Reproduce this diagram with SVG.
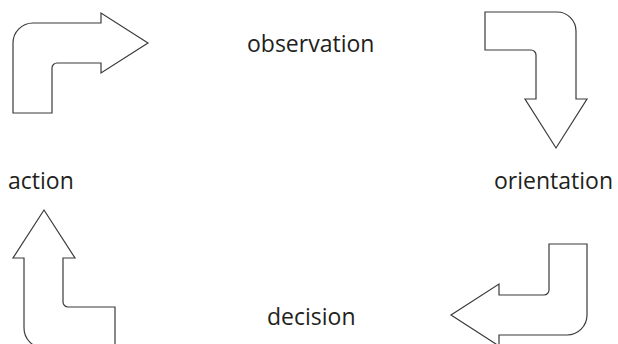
<svg xmlns="http://www.w3.org/2000/svg" width="618" height="344" viewBox="0 0 618 344">
<style>
.arr{fill:#fff;stroke:#3a3a3a;stroke-width:1.2;stroke-linejoin:miter}
.lbl{font-family:"Open Sans","Liberation Sans",sans-serif;font-size:23px;fill:#231f20}
</style>
<rect width="618" height="344" fill="#fff"/>
<g id="connectors">
<g id="arrow-action-observation"><path class="arr" d="M13,113 L13,43 A20,20 0 0 1 33,23 L101,23 L101,13 L148,43 L101,73 L101,63 L57,63 A5,5 0 0 0 52,68 L52,113 Z"/></g>
<g id="arrow-observation-orientation"><path class="arr" d="M485,12 L557,12 A19,19 0 0 1 576,31 L576,99 L587,99 L556,148 L525,99 L536,99 L536,55 A5,5 0 0 0 531,50 L485,50 Z"/></g>
<g id="arrow-decision-action"><path class="arr" d="M44,210 L75,258 L63,258 L63,302 A5,5 0 0 0 68,307 L115,307 L115,348 L44,348 A20,20 0 0 1 24,328 L24,258 L13,258 Z"/></g>
<g id="arrow-orientation-decision"><path class="arr" d="M549,244 L587,244 L587,315 A20,20 0 0 1 567,335 L499,335 L499,346 L451,315 L499,284 L499,295 L544,295 A5,5 0 0 0 549,290 Z"/></g>
</g>
<g id="observation"><text class="lbl" x="247" y="52">observation</text></g>
<g id="orientation"><text class="lbl" x="494" y="189">orientation</text></g>
<g id="action"><text class="lbl" x="8" y="189">action</text></g>
<g id="decision"><text class="lbl" x="267" y="325">decision</text></g>
</svg>
